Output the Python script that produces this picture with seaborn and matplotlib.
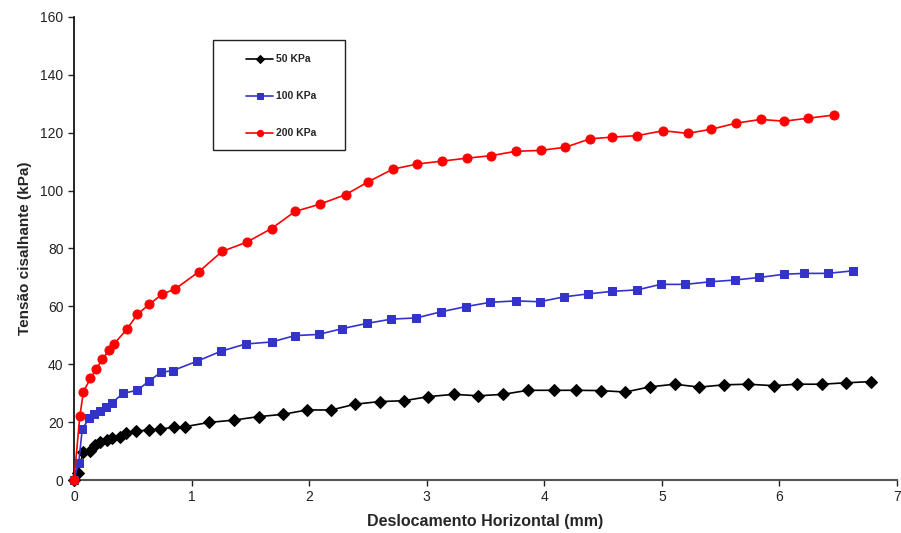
import matplotlib
matplotlib.use("Agg")
import matplotlib.pyplot as plt
import seaborn as sns
import pandas as pd
from matplotlib.patches import Rectangle

# ---- data ----
x_50 = [0, 0.03, 0.08, 0.14, 0.18, 0.22, 0.28, 0.32, 0.39, 0.44, 0.53, 0.64, 0.73, 0.85, 0.94,
        1.15, 1.36, 1.57, 1.78, 1.98, 2.19, 2.39, 2.60, 2.81, 3.01, 3.23, 3.44, 3.65, 3.86,
        4.08, 4.27, 4.48, 4.69, 4.90, 5.11, 5.32, 5.53, 5.73, 5.95, 6.15, 6.36, 6.57, 6.78]
y_50 = [0, 2.3, 9.8, 10.1, 12.1, 13.2, 13.8, 14.4, 14.8, 16.1, 16.9, 17.3, 17.6, 18.2, 18.4,
        19.9, 20.7, 21.9, 22.7, 24.2, 24.2, 26.2, 27.1, 27.4, 28.8, 29.6, 29.1, 29.6, 31.0,
        31.0, 31.0, 30.9, 30.4, 32.2, 33.1, 32.1, 32.9, 33.1, 32.6, 33.1, 33.1, 33.6, 34.0]

x_100 = [0, 0.04, 0.07, 0.13, 0.17, 0.22, 0.27, 0.32, 0.42, 0.54, 0.64, 0.74, 0.84, 1.05, 1.25,
         1.46, 1.68, 1.88, 2.08, 2.28, 2.49, 2.70, 2.91, 3.12, 3.33, 3.54, 3.76, 3.96, 4.17,
         4.37, 4.58, 4.79, 4.99, 5.20, 5.41, 5.62, 5.83, 6.04, 6.21, 6.41, 6.63]
y_100 = [0, 6.0, 17.5, 21.5, 22.8, 24.0, 25.2, 26.6, 30.0, 31.0, 34.3, 37.2, 37.8, 41.1, 44.5,
         47.0, 47.7, 49.9, 50.3, 52.3, 54.1, 55.6, 56.0, 58.1, 59.9, 61.4, 61.9, 61.6, 63.3,
         64.3, 65.2, 65.7, 67.6, 67.6, 68.5, 69.1, 70.0, 71.1, 71.4, 71.4, 72.3]

x_200 = [0, 0.05, 0.08, 0.14, 0.19, 0.24, 0.30, 0.34, 0.45, 0.54, 0.64, 0.75, 0.86, 1.06, 1.26,
         1.47, 1.68, 1.88, 2.09, 2.31, 2.50, 2.71, 2.92, 3.13, 3.34, 3.55, 3.76, 3.97, 4.18,
         4.39, 4.58, 4.79, 5.01, 5.22, 5.42, 5.63, 5.84, 6.04, 6.24, 6.46]
y_200 = [0, 22.2, 30.5, 35.1, 38.3, 41.8, 44.8, 47.0, 52.1, 57.3, 60.7, 64.2, 66.0, 71.9, 79.0,
         82.2, 86.9, 92.8, 95.3, 98.6, 103.0, 107.4, 109.2, 110.2, 111.2, 112.1, 113.6, 113.9, 115.0,
         117.9, 118.5, 119.0, 120.7, 119.8, 121.2, 123.3, 124.6, 124.0, 125.0, 126.1]

labels = ["50 KPa", "100 KPa", "200 KPa"]
x_ticks = [0, 1, 2, 3, 4, 5, 6, 7]
y_ticks = [0, 20, 40, 60, 80, 100, 120, 140, 160]

# ---- plot ----
sns.set_style("white")
plt.rcParams['font.family'] = ['Liberation Sans', 'DejaVu Sans']

fig = plt.figure(figsize=(9.01, 5.33), dpi=100)
ax = fig.add_axes([74 / 901, 1 - 480 / 533, (897 - 74) / 901, (480 - 17) / 533])

series = [
    (x_50, y_50, labels[0], "black", "D", 5.8),
    (x_100, y_100, labels[1], "#3333CC", "s", 5.5),
    (x_200, y_200, labels[2], "#FF0000", "o", 6.5),
]
for xs, ys, lab, col, mk, ms in series:
    df = pd.DataFrame({"x": xs, "y": ys})
    sns.lineplot(data=df, x="x", y="y", ax=ax, sort=False, color=col, marker=mk,
                 markersize=ms, markeredgecolor=col, linewidth=1.2, label=lab,
                 clip_on=False, zorder=3)

ax.set_xlim(0, 7)
ax.set_ylim(0, 160)
ax.set_xticks(x_ticks)
ax.set_yticks(y_ticks)
ax.tick_params(axis="both", labelsize=10, length=4, width=1, direction="out",
               colors="#222222", labelcolor="#222222", left=True, bottom=True)
for s in ["top", "right"]:
    ax.spines[s].set_visible(False)
ax.spines["left"].set_color("black")
ax.spines["left"].set_linewidth(1.2)
ax.spines["bottom"].set_color("#555555")
ax.spines["bottom"].set_linewidth(1.5)

ax.set_xlabel("Deslocamento Horizontal (mm)", fontsize=11.5, fontweight="bold", labelpad=7)
ax.set_ylabel("Tensão cisalhante (kPa)", fontsize=11, fontweight="bold", labelpad=6)

leg = ax.legend(loc="upper left", bbox_to_anchor=(238 / 901, 1 - 46 / 533),
                bbox_transform=fig.transFigure, frameon=False,
                prop={"size": 7.5, "weight": "bold"}, handlelength=2.6,
                handletextpad=0.2, labelspacing=2.6, borderpad=0.3)
for h in leg.legend_handles:
    h.set_markersize(4.5)

fig.patches.append(Rectangle((213 / 901, 1 - 150 / 533), (345 - 213) / 901, (150 - 40) / 533,
                             transform=fig.transFigure, fill=False,
                             edgecolor="#222222", linewidth=1.0))

fig.savefig("out.png", dpi=100)
